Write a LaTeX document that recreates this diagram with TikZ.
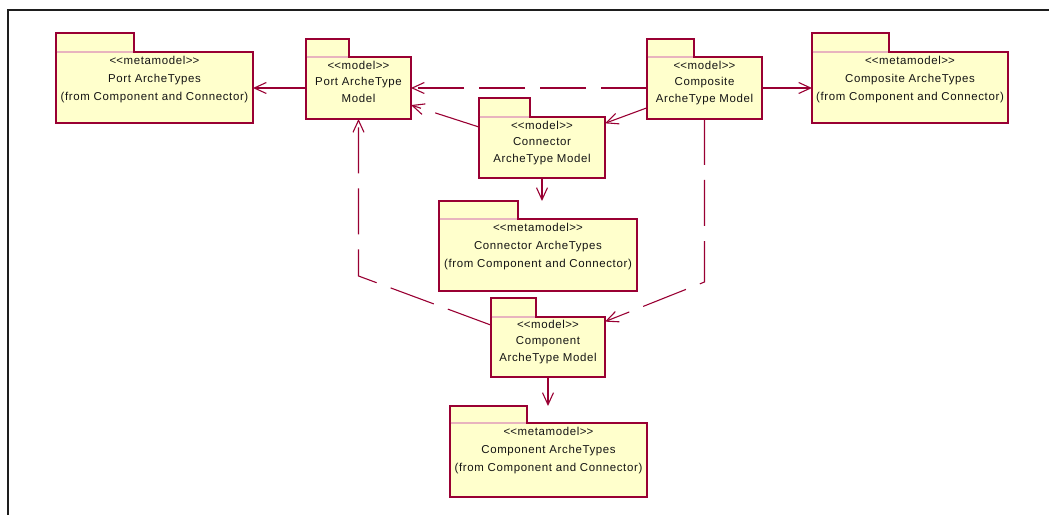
\documentclass[tikz,border=0pt]{standalone}
\usepackage{fontspec}
\newfontfamily\umlfont{Liberation Sans}[LetterSpace=5.5]
\usetikzlibrary{arrows.meta,calc}

\definecolor{umlred}{RGB}{153,0,51}
\definecolor{pkgfill}{RGB}{255,255,204}
\definecolor{tabline}{RGB}{232,180,190}
\definecolor{framegray}{RGB}{30,30,30}
\definecolor{labelgray}{RGB}{20,20,20}

% guillemet-free stereotype brackets (kerns stop the TeX ligature mapping)
\newcommand{\stereo}[1]{<\kern0pt<#1>\kern0pt>}

% tab on top of a package body; also defines (<name>-top) at the tab's top edge
\newcommand{\packagetab}[3]{%
  \draw[pkgline, fill=pkgfill] (#1.north west) rectangle ++(#2,-#3);
  \draw[tabsep] ([xshift=0.6bp]#1.north west) -- ++({#2-1.2},0);
  \coordinate (#1-top) at ($(#1.north west)+(0,-#3)$);
}

\tikzset{
  pkgline/.style={draw=umlred, line width=1.2bp},
  pkg/.style={pkgline, fill=pkgfill, inner sep=0pt, outer sep=0pt},
  tabsep/.style={draw=tabline, line width=1.2bp},
  pkgtxt/.style={font=\umlfont\fontsize{11.5}{18}\selectfont, align=center,
    inner sep=0pt, text=labelgray, anchor=north},
  modeltxt/.style={pkgtxt, font=\umlfont\fontsize{11.5}{16.5}\selectfont},
  dep/.style={draw=umlred, line width=1.1bp,
    -{Straight Barb[length=12bp, width=11bp]}},
  depdash/.style={dep, dash pattern=on 46bp off 15bp},
}

\begin{document}
\begin{tikzpicture}[x=1bp, y=-1bp]
\useasboundingbox (0,0) rectangle (1049,515);

% page frame
\draw[framegray, line width=2.5bp] (8,515) -- (8,10) -- (1049,10);

% package bodies
\node[pkg, minimum width=197bp, minimum height=71bp] (pa)  at (154.5,87.5) {};
\node[pkg, minimum width=105bp, minimum height=62bp] (pam) at (358.5,88) {};
\node[pkg, minimum width=115bp, minimum height=62bp] (cam) at (704.5,88) {};
\node[pkg, minimum width=196bp, minimum height=71bp] (ca)  at (910,87.5) {};
\node[pkg, minimum width=126bp, minimum height=61bp] (cnm) at (542,147.5) {};
\node[pkg, minimum width=198bp, minimum height=72bp] (cna) at (538,255) {};
\node[pkg, minimum width=114bp, minimum height=60bp] (cpm) at (548,347) {};
\node[pkg, minimum width=197bp, minimum height=74bp] (cpa) at (548.5,460) {};

% package tabs
\packagetab{pa}{78}{19}
\packagetab{pam}{43}{18}
\packagetab{cam}{47}{18}
\packagetab{ca}{77}{19}
\packagetab{cnm}{51}{19}
\packagetab{cna}{79}{18}
\packagetab{cpm}{45}{19}
\packagetab{cpa}{77}{17}

% package labels
\node[pkgtxt] (pa-text) at ($(pa.north)+(0,4)$)
  {\stereo{metamodel}\\Port ArcheTypes\\(from Component and Connector)};
\node[modeltxt] (pam-text) at ($(pam.north)+(0,4)$)
  {\stereo{model}\\Port ArcheType\\Model};
\node[modeltxt] (cam-text) at ($(cam.north)+(0,4)$)
  {\stereo{model}\\Composite\\ArcheType Model};
\node[pkgtxt] (ca-text) at ($(ca.north)+(0,4)$)
  {\stereo{metamodel}\\Composite ArcheTypes\\(from Component and Connector)};
\node[modeltxt] (cnm-text) at ($(cnm.north)+(0,4)$)
  {\stereo{model}\\Connector\\ArcheType Model};
\node[pkgtxt] (cna-text) at ($(cna.north)+(0,4)$)
  {\stereo{metamodel}\\Connector ArcheTypes\\(from Component and Connector)};
\node[modeltxt] (cpm-text) at ($(cpm.north)+(0,3)$)
  {\stereo{model}\\Component\\ArcheType Model};
\node[pkgtxt] (cpa-text) at ($(cpa.north)+(0,4)$)
  {\stereo{metamodel}\\Component ArcheTypes\\(from Component and Connector)};

% bends of the routed dependencies
\coordinate (bendL) at (358.5,276);
\coordinate (bendR) at (704.5,282);

% dependencies
\draw[dep] (pam.west) -- (pam.west -| pa.east);
\draw[depdash] (cam.west) -- (pam.east);
\draw[dep] (cam.east) -- (cam.east -| ca.west);
\draw[dep] (cam.199) -- (cnm.21);
\draw[depdash] (cnm.162) -- (pam.-18);
\draw[dep] (cnm.south) -- (cnm.south |- cna-top);
\draw[depdash] (cpm.159) -- (bendL) -- (pam.south);
\draw[depdash] (cam.south) -- (bendR) -- (cpm.24.5);
\draw[dep] (cpm.south) -- (cpm.south |- cpa-top);
\end{tikzpicture}
\end{document}
